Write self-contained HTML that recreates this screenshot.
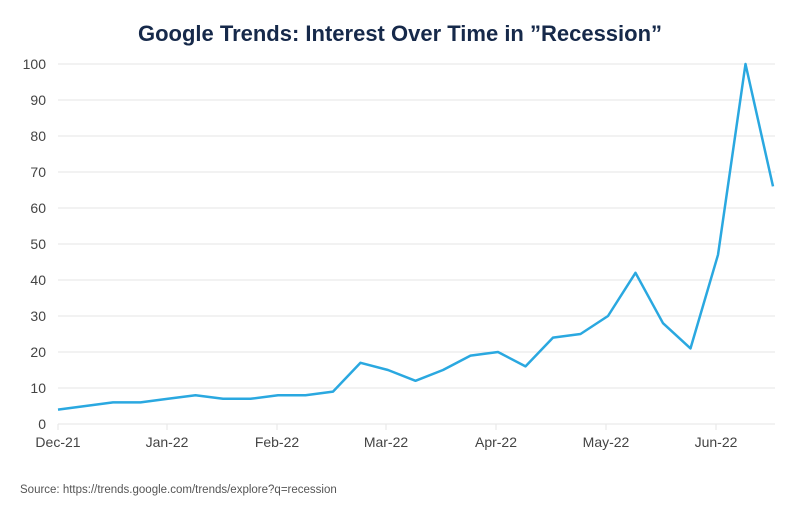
<!DOCTYPE html><html><head><style>body{margin:0;background:#fff}</style></head><body>
<svg width="800" height="511" xmlns="http://www.w3.org/2000/svg" font-family="Liberation Sans, sans-serif">
<rect width="800" height="511" fill="#fff"/>
<text x="400" y="41" text-anchor="middle" font-size="22" font-weight="bold" fill="#16294a">Google Trends: Interest Over Time in ”Recession”</text>
<g stroke="#e6e6e6" stroke-width="1">
<line x1="58" x2="775" y1="64" y2="64"/><line x1="58" x2="775" y1="100" y2="100"/><line x1="58" x2="775" y1="136" y2="136"/><line x1="58" x2="775" y1="172" y2="172"/><line x1="58" x2="775" y1="208" y2="208"/><line x1="58" x2="775" y1="244" y2="244"/><line x1="58" x2="775" y1="280" y2="280"/><line x1="58" x2="775" y1="316" y2="316"/><line x1="58" x2="775" y1="352" y2="352"/><line x1="58" x2="775" y1="388" y2="388"/><line x1="58" x2="775" y1="424" y2="424"/>
<line x1="58" x2="58" y1="424" y2="430"/><line x1="167" x2="167" y1="424" y2="430"/><line x1="277" x2="277" y1="424" y2="430"/><line x1="386" x2="386" y1="424" y2="430"/><line x1="496" x2="496" y1="424" y2="430"/><line x1="606" x2="606" y1="424" y2="430"/><line x1="716" x2="716" y1="424" y2="430"/>
</g>
<g font-size="14" fill="#444" text-anchor="end">
<text x="46" y="69">100</text><text x="46" y="105">90</text><text x="46" y="141">80</text><text x="46" y="177">70</text><text x="46" y="213">60</text><text x="46" y="249">50</text><text x="46" y="285">40</text><text x="46" y="321">30</text><text x="46" y="357">20</text><text x="46" y="393">10</text><text x="46" y="429">0</text>
</g>
<g font-size="14" fill="#444" text-anchor="middle">
<text x="58" y="447">Dec-21</text><text x="167" y="447">Jan-22</text><text x="277" y="447">Feb-22</text><text x="386" y="447">Mar-22</text><text x="496" y="447">Apr-22</text><text x="606" y="447">May-22</text><text x="716" y="447">Jun-22</text>
</g>
<polyline fill="none" stroke="#2aa8e0" stroke-width="2.5" stroke-linejoin="round" points="58,409.6 85.5,406 113,402.4 140.5,402.4 168,398.8 195.5,395.2 223,398.8 250.5,398.8 278,395.2 305.5,395.2 333,391.6 360.5,362.8 388,370 415.5,380.8 443,370 470.5,355.6 498,352 525.5,366.4 553,337.6 580.5,334 608,316 635.5,272.8 663,323.2 690.5,348.4 718,254.8 745.5,64 773,186.4"/>
<text x="20" y="493" font-size="11.5" fill="#555">Source: https://trends.google.com/trends/explore?q=recession</text>
</svg>
</body></html>
